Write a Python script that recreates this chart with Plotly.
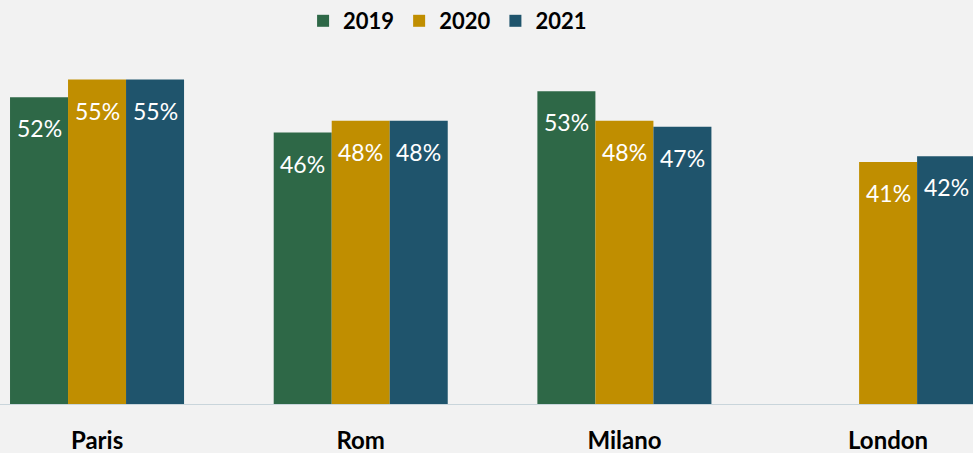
import plotly.graph_objects as go

cities = ["Paris", "Rom", "Milano", "London"]
years = ["2019", "2020", "2021"]
v2019 = [52, 46, 53, None]
v2020 = [55, 48, 48, 41]
v2021 = [55, 48, 47, 42]
series = [v2019, v2020, v2021]
colors = ["#2E6847", "#C08E00", "#1F546C"]

fig = go.Figure()
for name, vals, col in zip(years, series, colors):
    fig.add_trace(go.Bar(name=name, x=cities, y=vals, marker=dict(color=col, line=dict(width=0)),
                         hoverinfo="skip"))

bar_px = 58
annotations = []
for k, vals in enumerate(series):
    for c, v in zip(cities, vals):
        if v is None:
            continue
        annotations.append(dict(x=c, y=v, xref="x", yref="y", text=f"{v}%", showarrow=False,
                                xshift=(k - 1) * bar_px, yshift=-31, yanchor="middle",
                                font=dict(family="Lato", size=23, color="white")))

fig.update_layout(
    width=973, height=453,
    paper_bgcolor="#F2F2F2", plot_bgcolor="#F2F2F2",
    margin=dict(l=0, r=0, t=50, b=49, autoexpand=False),
    barmode="group", bargap=0.34, bargroupgap=0,
    annotations=annotations,
    legend=dict(orientation="h", x=0.46, xanchor="center", y=1.0, yanchor="top",
                yref="container",
                font=dict(family="Lato", size=22, color="black", weight="bold"),
                itemwidth=30, bgcolor="rgba(0,0,0,0)"),
    xaxis=dict(range=[-0.368, 3.322], showgrid=False, zeroline=False, showline=True,
               linecolor="#C9D5DB", linewidth=1, ticks="", ticklabelstandoff=15,
               automargin=False,
               tickfont=dict(family="Lato", size=24, color="black", weight="bold")),
    yaxis=dict(range=[0, 60], showgrid=False, zeroline=False, showticklabels=False, ticks="",
               automargin=False),
    showlegend=True,
)
fig.write_html("out.html", config={"displayModeBar": False},
               post_script="document.body.style.margin='0';document.body.style.background='#F2F2F2';")
